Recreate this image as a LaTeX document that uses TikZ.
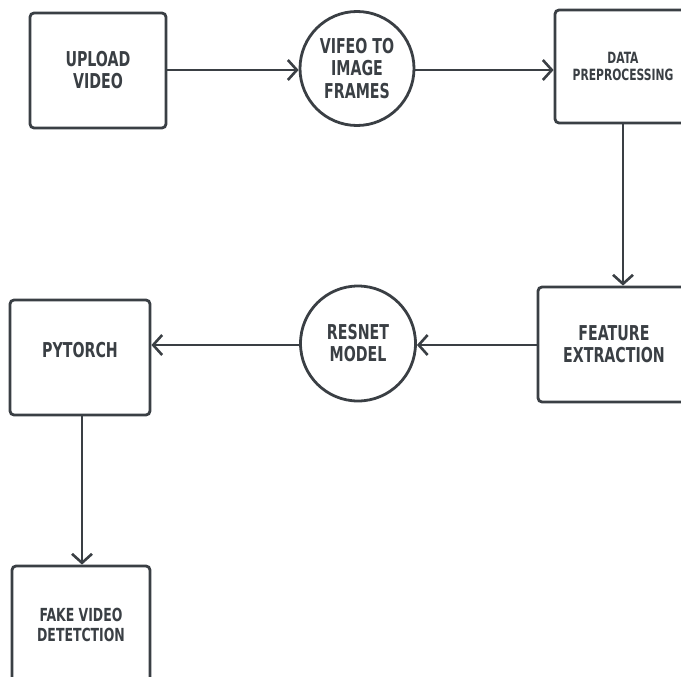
\documentclass[tikz,border=0pt]{standalone}
\usepackage{fontspec}
\newfontfamily\lbl{DejaVu Sans Condensed}[FakeStretch=0.77]
\usetikzlibrary{arrows.meta}
\definecolor{ink}{HTML}{3A3F44}
\tikzset{
  x=1pt, y=-1pt,
  line/.style={draw=ink, line width=2.8pt},
  arr/.style={line, -{Straight Barb[length=9pt,width=20pt,line width=2.6pt]}},
  boxnode/.style={line, rounded corners=4pt, align=center, text=ink, font=\lbl\bfseries},
  circnode/.style={line, circle, inner sep=0pt, align=center, text=ink, font=\lbl\bfseries},
  big/.style={font=\lbl\bfseries\fontsize{20.5}{22}\selectfont}
}
\begin{document}
\begin{tikzpicture}
\useasboundingbox (0,0) rectangle (681,677);
\begin{scope}
\clip (0,0) rectangle (681,677);
\node[boxnode, big, minimum width=136pt, minimum height=115pt] (upload) at (98,70.5) {UPLOAD\\VIDEO};
\node[circnode, big, font=\lbl\bfseries\fontsize{20.5}{22.5}\selectfont, minimum size=114pt] (frames) at (357,68.5) {VIFEO TO\\IMAGE\\FRAMES};
\node[boxnode, minimum width=136pt, minimum height=113pt, font=\lbl\bfseries\fontsize{15.5}{17.5}\selectfont] (prep) at (623,66.5) {DATA\\PREPROCESSING};
\node[boxnode, big, minimum width=152pt, minimum height=115pt] (feat) at (614,344.5) {FEATURE\\EXTRACTION};
\node[circnode, big, minimum size=115pt] (resnet) at (358,343.5) {RESNET\\MODEL};
\node[boxnode, big, minimum width=140pt, minimum height=115pt, text height=10pt, text depth=10pt] (torch) at (80,357.5) {PYTORCH};
\node[boxnode, minimum width=138pt, minimum height=118pt, font=\lbl\bfseries\fontsize{18}{19.5}\selectfont] (fake) at (81,625) {FAKE VIDEO\\DETETCTION};
\draw[arr] (upload.east |- 0,70) -- (frames.west |- 0,70);
\draw[arr] (frames.east |- 0,70) -- (prep.west |- 0,70);
\draw[arr] (prep.south) -- (feat.north -| prep.south);
\draw[arr] (feat.west |- 0,345) -- (resnet.east |- 0,345);
\draw[arr] (resnet.west |- 0,345) -- (torch.east |- 0,345);
\draw[arr] (torch.south -| 82,0) -- (fake.north -| 82,0);
\end{scope}
\end{tikzpicture}
\end{document}
